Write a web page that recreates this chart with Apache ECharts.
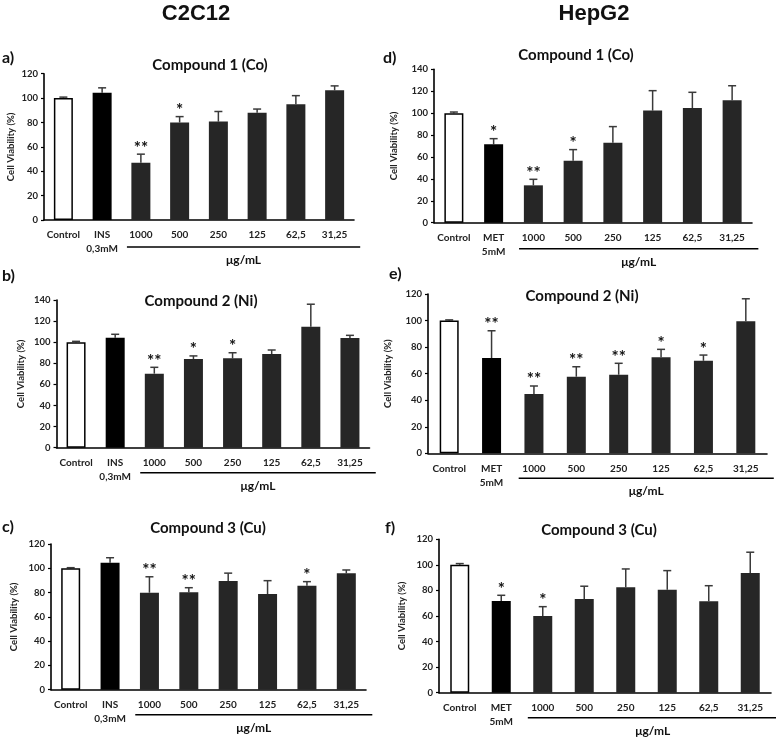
<!DOCTYPE html>
<html><head><meta charset="utf-8">
<script src="https://cdn.jsdelivr.net/npm/echarts@6/dist/echarts.min.js"></script>
<style>html,body{margin:0;padding:0;background:#fff}#c{width:776px;height:739px}</style>
</head><body><div id="c"></div>
<script>
// ---------- data ----------
const catsC2C12 = ['Control', 'INS\n0,3mM', '1000', '500', '250', '125', '62,5', '31,25'];
const catsHepG2 = ['Control', 'MET\n5mM', '1000', '500', '250', '125', '62,5', '31,25'];

const aMean = [100, 104.4, 47, 80, 80.7, 88, 95, 106.4];
const aErr  = [0.8, 4, 7, 4.8, 8.3, 3, 7, 3.6];
const aStars = ['', '', '**', '*', '', '', '', ''];

const bMean = [100, 104.3, 70.2, 84, 84.7, 88.8, 114.7, 104];
const bErr  = [0.8, 3.2, 6, 3, 5.3, 3.8, 21.3, 2.5];
const bStars = ['', '', '**', '*', '*', '', '', ''];

const cMean = [100, 104.6, 79.9, 80.2, 89.5, 78.8, 85.7, 95.9];
const cErr  = [0.5, 4.1, 13.1, 3.8, 6.5, 11, 3.3, 2.7];
const cStars = ['', '', '**', '**', '', '', '*', ''];

const dMean = [100, 71.6, 34.1, 56.6, 73, 102.3, 104.7, 111.8];
const dErr  = [1, 5.1, 5.5, 10.1, 14.7, 18.2, 14.3, 13.2];
const dStars = ['', '*', '**', '*', '', '', '', ''];

const eMean = [100, 71.8, 44.7, 57.7, 59.2, 72.3, 69.7, 99.4];
const eErr  = [0.5, 20.5, 6, 7.5, 8.6, 6, 4.3, 17];
const eStars = ['', '**', '**', '**', '**', '*', '*', ''];

const fMean = [100, 71.8, 60, 73.3, 82.5, 80.6, 71.5, 93.7];
const fErr  = [1, 4.4, 7.3, 10, 14.3, 14.9, 12.2, 16.2];
const fStars = ['', '*', '*', '', '', '', '', ''];

const yMaxs = [120, 140, 120, 140, 120, 120];
const titles = ['Compound 1 (Co)', 'Compound 2 (Ni)', 'Compound 3 (Cu)', 'Compound 1 (Co)', 'Compound 2 (Ni)', 'Compound 3 (Cu)'];
const letters = ['a)', 'b)', 'c)', 'd)', 'e)', 'f)'];
const headers = ['C2C12', 'HepG2'];
const unitLabel = 'μg/mL';
const yName = 'Cell Viability (%)';

// ---------- layout ----------
const FONT = 'Lato, "Open Sans", sans-serif';
const panels = [
  {cats: catsC2C12, mean: aMean, err: aErr, stars: aStars, grid: {left: 44, top: 73.7, width: 310, height: 146.3}, gap: 28, tx: 210, ty: 65, lx: 2, ly: 58, ul: 27},
  {cats: catsC2C12, mean: bMean, err: bErr, stars: bStars, grid: {left: 56.5, top: 300, width: 313, height: 147.7}, gap: 31, tx: 201, ty: 301, lx: 2, ly: 276, ul: 25},
  {cats: catsC2C12, mean: cMean, err: cErr, stars: cStars, grid: {left: 51, top: 544, width: 315, height: 145.7}, gap: 32, tx: 208, ty: 528, lx: 2, ly: 527, ul: 25},
  {cats: catsHepG2, mean: dMean, err: dErr, stars: dStars, grid: {left: 434, top: 69.3, width: 318, height: 153.4}, gap: 35, tx: 576, ty: 55, lx: 383, ly: 58, ul: 26},
  {cats: catsHepG2, mean: eMean, err: eErr, stars: eStars, grid: {left: 428, top: 294, width: 339, height: 159.3}, gap: 35, tx: 582, ty: 296, lx: 389, ly: 274, ul: 25},
  {cats: catsHepG2, mean: fMean, err: fErr, stars: fStars, grid: {left: 439, top: 539.3, width: 332, height: 153.4}, gap: 32, tx: 599, ty: 530, lx: 385, ly: 528, ul: 25}
];

const grids = [], xAxes = [], yAxes = [], series = [];
const graphics = [];

panels.forEach((p, gi) => {
  grids.push(Object.assign({containLabel: false}, p.grid));
  xAxes.push({
    type: 'category', gridIndex: gi, data: p.cats,
    axisLine: {lineStyle: {color: '#000', width: 1.6}},
    axisTick: {alignWithLabel: true, length: 3, lineStyle: {color: '#000', width: 1.2}},
    axisLabel: {color: '#222', fontFamily: FONT, fontWeight: 'bold', fontSize: 10, lineHeight: 14, margin: 8, interval: 0},
    splitLine: {show: false}
  });
  yAxes.push({
    type: 'value', gridIndex: gi, min: 0, max: yMaxs[gi], interval: 20,
    name: yName, nameLocation: 'middle', nameGap: p.gap, nameRotate: 90,
    nameTextStyle: {color: '#222', fontFamily: FONT, fontWeight: 'bold', fontSize: 9.5},
    axisLine: {show: true, lineStyle: {color: '#000', width: 1.6}},
    axisTick: {show: true, length: 3, lineStyle: {color: '#000', width: 1.2}},
    axisLabel: {color: '#222', fontFamily: FONT, fontWeight: 'bold', fontSize: 9.5, margin: 6},
    splitLine: {show: false}
  });
  series.push({
    type: 'bar', xAxisIndex: gi, yAxisIndex: gi, barWidth: 19,
    data: p.mean.map((v, i) => ({
      value: v,
      itemStyle: i === 0 ? {color: '#fff', borderColor: '#000', borderWidth: 1.5}
               : i === 1 ? {color: '#000'} : {color: '#262626'}
    })),
    silent: true, animation: false
  });
  series.push({
    type: 'custom', xAxisIndex: gi, yAxisIndex: gi, clip: false, animation: false, silent: true,
    data: p.mean.map((v, i) => [i, v, p.err[i], i]),
    renderItem: function (params, api) {
      const i = api.value(0), m = api.value(1), e = api.value(2);
      const base = api.coord([i, m]);
      const top = api.coord([i, m + e]);
      const children = [
        {type: 'line', shape: {x1: base[0], y1: base[1], x2: top[0], y2: top[1]}, style: {stroke: '#3a3a3a', lineWidth: 1.5}},
        {type: 'line', shape: {x1: top[0] - 4, y1: top[1], x2: top[0] + 4, y2: top[1]}, style: {stroke: '#3a3a3a', lineWidth: 1.5}}
      ];
      const s = p.stars[api.value(3)];
      if (s) {
        children.push({type: 'text', style: {text: s, x: top[0], y: top[1] - 6, align: 'center', verticalAlign: 'middle', fill: '#111', font: 'bold 17px ' + FONT}});
      }
      return {type: 'group', children: children};
    }
  });
  // underline below concentration categories + unit label
  series.push({
    type: 'custom', xAxisIndex: gi, yAxisIndex: gi, clip: false, animation: false, silent: true,
    data: [[2, 0, 7]],
    renderItem: function (params, api) {
      const a = api.coord([api.value(0), api.value(1)]);
      const b = api.coord([api.value(2), api.value(1)]);
      const band = api.size([1, 0])[0];
      const x1 = a[0] - 0.36 * band, x2 = b[0] + 0.66 * band, y = a[1] + p.ul;
      return {type: 'group', children: [
        {type: 'line', shape: {x1: x1, y1: y, x2: x2, y2: y}, style: {stroke: '#000', lineWidth: 1.6}},
        {type: 'text', style: {text: unitLabel, x: (x1 + x2) / 2, y: y + 13, align: 'center', verticalAlign: 'middle', fill: '#111', font: 'bold 12px ' + FONT}}
      ]};
    }
  });
  graphics.push({type: 'text', left: undefined, x: p.tx, y: p.ty, style: {text: titles[gi], x: 0, y: 0, align: 'center', verticalAlign: 'middle', fill: '#111', font: 'bold 15px ' + FONT}});
  graphics.push({type: 'text', x: p.lx, y: p.ly, style: {text: letters[gi], x: 0, y: 0, align: 'left', verticalAlign: 'middle', fill: '#111', font: 'bold 16px ' + FONT}});
});

graphics.push({type: 'text', x: 196, y: 14, style: {text: headers[0], align: 'center', verticalAlign: 'middle', fill: '#111', font: 'bold 22px "Liberation Sans", Arial, sans-serif'}});
graphics.push({type: 'text', x: 594, y: 14, style: {text: headers[1], align: 'center', verticalAlign: 'middle', fill: '#111', font: 'bold 22px "Liberation Sans", Arial, sans-serif'}});

const chart = echarts.init(document.getElementById('c'), null, {renderer: 'canvas'});
chart.setOption({
  backgroundColor: '#fff',
  animation: false,
  grid: grids, xAxis: xAxes, yAxis: yAxes, series: series,
  graphic: graphics
});
</script></body></html>
